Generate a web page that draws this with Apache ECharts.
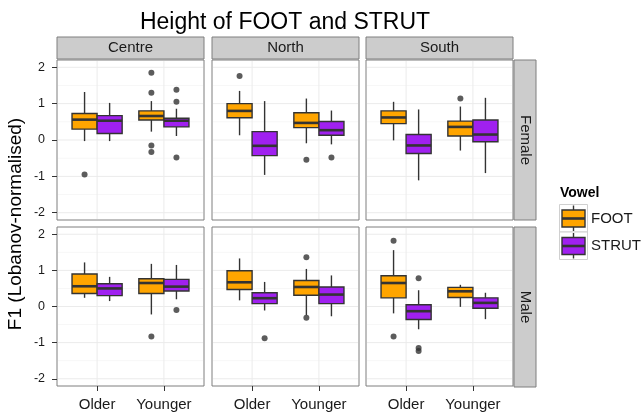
<!DOCTYPE html>
<html>
<head>
<meta charset="utf-8">
<script src="https://cdn.jsdelivr.net/npm/echarts@6/dist/echarts.min.js"></script>
<style>html,body{margin:0;padding:0;background:#fff}#c{width:643px;height:412px}</style>
</head>
<body>
<div id="c"></div>
<script>
// ---------- data ----------
const regions = ['Centre', 'North', 'South'];
const sexes = ['Female', 'Male'];
const ages = ['Older', 'Younger'];
const vowels = ['FOOT', 'STRUT'];
const vowelColors = ['#FFA500', '#A020F0'];

// [lower whisker, Q1, median, Q3, upper whisker]
// order: Centre-Older, Centre-Younger, North-Older, North-Younger, South-Older, South-Younger
const footFemale = [
  [-0.03, 0.30, 0.56, 0.73, 1.32], [0.23, 0.55, 0.66, 0.80, 1.07],
  [0.13, 0.61, 0.80, 1.00, 1.35], [-0.09, 0.34, 0.47, 0.75, 1.14],
  [-0.01, 0.45, 0.62, 0.80, 1.05], [-0.29, 0.11, 0.36, 0.52, 0.92]
];
const strutFemale = [
  [-0.03, 0.18, 0.53, 0.67, 1.02], [0.11, 0.36, 0.53, 0.60, 0.86],
  [-0.96, -0.43, -0.16, 0.23, 1.07], [-0.12, 0.13, 0.27, 0.51, 0.81],
  [-1.11, -0.37, -0.15, 0.15, 0.84], [-0.91, -0.05, 0.15, 0.55, 1.16]
];
const footMale = [
  [0.24, 0.36, 0.56, 0.90, 1.22], [-0.22, 0.36, 0.65, 0.77, 1.18],
  [0.17, 0.47, 0.67, 0.99, 1.33], [-0.24, 0.31, 0.54, 0.72, 1.04],
  [-0.19, 0.24, 0.65, 0.85, 1.56], [-0.01, 0.25, 0.42, 0.53, 0.60]
];
const strutMale = [
  [0.15, 0.30, 0.50, 0.63, 0.82], [0.20, 0.43, 0.55, 0.75, 1.15],
  [-0.11, 0.08, 0.23, 0.38, 0.68], [-0.27, 0.08, 0.33, 0.54, 0.86],
  [-0.63, -0.36, -0.13, 0.05, 0.45], [-0.35, -0.05, 0.10, 0.24, 0.38]
];
// outliers, same order
const footFemaleOut = [[-0.95], [1.85, 1.30, -0.15, -0.33], [1.76], [-0.54], [], [1.14]];
const strutFemaleOut = [[], [1.38, 1.05, -0.48], [], [-0.48], [], []];
const footMaleOut = [[], [-0.83], [], [1.36, -0.31], [1.82, -0.83], []];
const strutMaleOut = [[], [-0.10], [-0.88], [], [0.78, -1.15, -1.23], []];

const yMajorTicks = [-2, -1, 0, 1, 2];
const yMinorTicks = [-1.5, -0.5, 0.5, 1.5];
const yRange = [-2.2, 2.2];

// ---------- layout ----------
const FONT = '"Liberation Sans", Arial, sans-serif';
const colLeft = [57, 212, 366];
const rowTop = [60, 227];
const panelW = 147, panelH = 160;
const stripSize = 22;
const dodge = 0.1875, boxWidth = 0.375;

const statsBy = { Female: [footFemale, strutFemale], Male: [footMale, strutMale] };
const outBy = { Female: [footFemaleOut, strutFemaleOut], Male: [footMaleOut, strutMaleOut] };

const grids = [], xAxes = [], yAxes = [], series = [], graphics = [];

function boxRender(color) {
  return function (params, api) {
    const x = api.value(0);
    const lo = api.coord([x, api.value(1)]);
    const q1 = api.coord([x, api.value(2)]);
    const md = api.coord([x, api.value(3)]);
    const q3 = api.coord([x, api.value(4)]);
    const hi = api.coord([x, api.value(5)]);
    const left = api.coord([x - boxWidth / 2, 0])[0];
    const right = api.coord([x + boxWidth / 2, 0])[0];
    const cx = lo[0];
    const st = { stroke: '#333333', lineWidth: 1.4 };
    return {
      type: 'group',
      children: [
        { type: 'line', shape: { x1: cx, y1: lo[1], x2: cx, y2: q1[1] }, style: st },
        { type: 'line', shape: { x1: cx, y1: q3[1], x2: cx, y2: hi[1] }, style: st },
        { type: 'rect', shape: { x: left, y: q3[1], width: right - left, height: q1[1] - q3[1] },
          style: { fill: color, stroke: '#333333', lineWidth: 1.4 } },
        { type: 'line', shape: { x1: left, y1: md[1], x2: right, y2: md[1] },
          style: { stroke: '#333333', lineWidth: 2.6 } }
      ]
    };
  };
}

function gridLineRender(params, api) {
  const cs = params.coordSys;
  const kind = api.value(2);
  if (kind === 2) {
    const px = api.coord([api.value(0), 0])[0];
    return { type: 'line', shape: { x1: px, y1: cs.y + 1, x2: px, y2: cs.y + cs.height - 1 },
      style: { stroke: '#ebebeb', lineWidth: 1 } };
  }
  const py = api.coord([1, api.value(1)])[1];
  return { type: 'line', shape: { x1: cs.x + 1, y1: py, x2: cs.x + cs.width - 1, y2: py },
    style: { stroke: kind === 0 ? '#ebebeb' : '#f7f7f7', lineWidth: 1 } };
}

const gridLineData = []
  .concat(yMinorTicks.map(v => [1, v, 1]))
  .concat(yMajorTicks.map(v => [1, v, 0]))
  .concat(ages.map((a, i) => [i + 1, 0, 2]));

sexes.forEach((sex, r) => {
  regions.forEach((reg, c) => {
    const idx = r * 3 + c;
    grids.push({ left: colLeft[c], top: rowTop[r], width: panelW, height: panelH,
      show: true, backgroundColor: '#ffffff', borderColor: '#7f7f7f', borderWidth: 1 });
    xAxes.push({ gridIndex: idx, type: 'value', min: 0.4, max: 2.6, position: 'bottom',
      axisLine: { show: false, onZero: false }, splitLine: { show: false },
      axisTick: { show: r === 1, customValues: [1, 2], length: 5, lineStyle: { color: '#333333' } },
      axisLabel: { show: r === 1, customValues: [1, 2], margin: 11, fontSize: 15, color: '#1a1a1a',
        fontFamily: FONT, formatter: v => ages[Math.round(v) - 1] || '' } });
    yAxes.push({ gridIndex: idx, type: 'value', min: yRange[0], max: yRange[1], position: 'left',
      axisLine: { show: false, onZero: false }, splitLine: { show: false },
      axisTick: { show: c === 0, customValues: yMajorTicks, length: 5, lineStyle: { color: '#333333' } },
      axisLabel: { show: c === 0, customValues: yMajorTicks, margin: 12, fontSize: 12.5, color: '#1a1a1a',
        fontFamily: FONT, formatter: v => String(Math.round(v)) } });
    series.push({ type: 'custom', xAxisIndex: idx, yAxisIndex: idx, z: 1, silent: true,
      renderItem: gridLineRender, data: gridLineData, animation: false });
    vowels.forEach((vw, k) => {
      const stats = statsBy[sex][k];
      const outs = outBy[sex][k];
      const off = k === 0 ? -dodge : dodge;
      const boxData = ages.map((a, ai) => [ai + 1 + off].concat(stats[c * 2 + ai]));
      series.push({ type: 'custom', name: vw, xAxisIndex: idx, yAxisIndex: idx, z: 3,
        renderItem: boxRender(vowelColors[k]), data: boxData, animation: false,
        encode: { x: 0, y: [1, 2, 3, 4, 5] } });
      const outData = [];
      ages.forEach((a, ai) => outs[c * 2 + ai].forEach(v => outData.push([ai + 1 + off, v])));
      series.push({ type: 'scatter', xAxisIndex: idx, yAxisIndex: idx, z: 4, symbolSize: 6,
        itemStyle: { color: '#333333' }, data: outData, animation: false });
    });
  });
});

// facet strips
regions.forEach((reg, c) => {
  graphics.push({ type: 'rect', shape: { x: colLeft[c], y: rowTop[0] - stripSize - 1, width: panelW, height: stripSize },
    style: { fill: '#cccccc', stroke: '#7f7f7f', lineWidth: 1 } });
  graphics.push({ type: 'text', x: colLeft[c] + panelW / 2, y: rowTop[0] - stripSize / 2 - 1,
    style: { text: reg, font: '15px ' + FONT, fill: '#1a1a1a', textAlign: 'center', textVerticalAlign: 'middle' } });
});
sexes.forEach((sex, r) => {
  const sx = colLeft[2] + panelW + 1;
  graphics.push({ type: 'rect', shape: { x: sx, y: rowTop[r], width: stripSize, height: panelH },
    style: { fill: '#cccccc', stroke: '#7f7f7f', lineWidth: 1 } });
  graphics.push({ type: 'text', x: sx + stripSize / 2, y: rowTop[r] + panelH / 2, rotation: -Math.PI / 2,
    style: { text: sex, font: '15px ' + FONT, fill: '#1a1a1a', textAlign: 'center', textVerticalAlign: 'middle' } });
});

// title & axis title
graphics.push({ type: 'text', x: 285, y: 23, style: { text: 'Height of FOOT and STRUT', font: '23px ' + FONT,
  fill: '#000000', textAlign: 'center', textVerticalAlign: 'middle' } });
graphics.push({ type: 'text', x: 16, y: 224, rotation: Math.PI / 2, style: { text: 'F1 (Lobanov-normalised)',
  font: '19px ' + FONT, fill: '#000000', textAlign: 'center', textVerticalAlign: 'middle' } });

// legend
graphics.push({ type: 'text', x: 560, y: 193, style: { text: 'Vowel', font: 'bold 14px ' + FONT,
  fill: '#000000', textAlign: 'left', textVerticalAlign: 'middle' } });
vowels.forEach((vw, k) => {
  const ky = 204.5 + k * 27.5;
  graphics.push({ type: 'rect', shape: { x: 559.5, y: ky, width: 28, height: 27.5 },
    style: { fill: '#ffffff', stroke: '#d0d0d0', lineWidth: 1 } });
  graphics.push({ type: 'line', shape: { x1: 573.5, y1: ky + 1, x2: 573.5, y2: ky + 26.5 },
    style: { stroke: '#333333', lineWidth: 1.4 } });
  graphics.push({ type: 'rect', shape: { x: 562, y: ky + 5.5, width: 23, height: 17 },
    style: { fill: vowelColors[k], stroke: '#333333', lineWidth: 1.4 } });
  graphics.push({ type: 'line', shape: { x1: 562, y1: ky + 14, x2: 585, y2: ky + 14 },
    style: { stroke: '#333333', lineWidth: 2.6 } });
  graphics.push({ type: 'text', x: 591, y: ky + 14, style: { text: vw, font: '15px ' + FONT,
    fill: '#1a1a1a', textAlign: 'left', textVerticalAlign: 'middle' } });
});

const chart = echarts.init(document.getElementById('c'), null, { renderer: 'canvas' });
chart.setOption({
  animation: false,
  backgroundColor: '#ffffff',
  textStyle: { fontFamily: FONT },
  grid: grids, xAxis: xAxes, yAxis: yAxes, series: series, graphic: graphics
});
</script>
</body>
</html>
